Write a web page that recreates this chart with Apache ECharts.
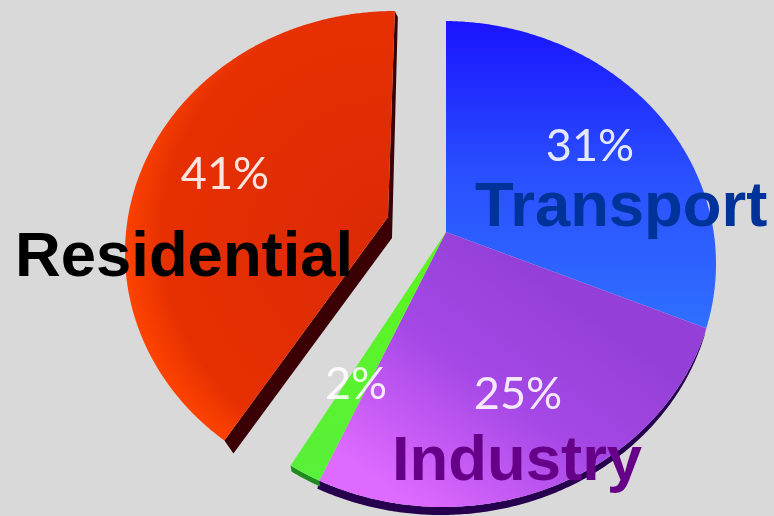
<!DOCTYPE html>
<html>
<head>
<meta charset="utf-8">
<title>Energy use by sector</title>
<script src="https://cdn.jsdelivr.net/npm/echarts@6/dist/echarts.min.js"></script>
<style>
  html, body { margin: 0; padding: 0; background: #d9d9d9; }
  #chart { width: 774px; height: 516px; }
</style>
</head>
<body>
<div id="chart"></div>
<script>
// clockwise from the top, residential is pulled out of the pie
var categories = ['Transport', 'Industry', 'Other', 'Residential'];
var shares = [31, 25, 2, 41];
var shareLabels = ['31%', '25%', '2%', '41%'];
var names = ['Transport', 'Industry', 'Residential'];
var nameColors = ['#003399', '#660088', '#000000'];

var DEG_PER_POINT = 3.6;

// the pie is seen at an angle: the apex is not the middle of the ellipse
var mainPie = {apex: [446, 232], center: [443, 264], rx: 273, ry: 243};
var redPie = {apex: [388, 217], center: [395, 253], rx: 270, ry: 242};

var percentPos = [[590, 146], [518, 394], [356, 384], [225, 174]];
var namePos = [[475, 209], [392, 463], [15, 259]];

function rayToEllipse(pie, dx, dy) {
  var px = pie.apex[0] - pie.center[0];
  var py = pie.apex[1] - pie.center[1];
  var a = dx * dx / (pie.rx * pie.rx) + dy * dy / (pie.ry * pie.ry);
  var b = 2 * (px * dx / (pie.rx * pie.rx) + py * dy / (pie.ry * pie.ry));
  var c = px * px / (pie.rx * pie.rx) + py * py / (pie.ry * pie.ry) - 1;
  var t = (-b + Math.sqrt(b * b - 4 * a * c)) / (2 * a);
  return [pie.apex[0] + t * dx, pie.apex[1] + t * dy];
}

// perspective lean of the lower half of the main pie
function mainPoint(deg) {
  var r = deg * Math.PI / 180;
  var dx = Math.sin(r);
  var dy = -Math.cos(r);
  if (dy > 0) {
    dx -= 0.09 * dy * dy * dy;
    dy *= 0.93;
  }
  return rayToEllipse(mainPie, dx, dy);
}

function redPoint(deg) {
  var r = deg * Math.PI / 180;
  var dx = Math.sin(r);
  var dy = -Math.cos(r);
  if (dy > 0) {
    dx -= 0.06 * dy * dy;
  }
  return rayToEllipse(redPie, dx, dy);
}

function arc(pointFn, from, to) {
  var pts = [];
  var n = Math.ceil(Math.abs(to - from) * 2);
  for (var i = 0; i <= n; i++) {
    pts.push(pointFn(from + (to - from) * i / n));
  }
  return pts;
}

function shifted(pts, ox, oy) {
  return pts.map(function (p) { return [p[0] + ox, p[1] + oy]; });
}

function poly(points, fill) {
  return {type: 'polygon', shape: {points: points}, style: {fill: fill}};
}

var blueFill = new echarts.graphic.LinearGradient(0, 22, 0, 330, [
  {offset: 0, color: '#1a14ff'},
  {offset: 0.5, color: '#2a50ff'},
  {offset: 1, color: '#3070ff'}
], true);
var purpleFill = new echarts.graphic.LinearGradient(570, 300, 420, 510, [
  {offset: 0, color: '#9440d8'},
  {offset: 0.45, color: '#a548e6'},
  {offset: 1, color: '#de6aff'}
], true);
var greenFill = new echarts.graphic.LinearGradient(0, 240, 0, 480, [
  {offset: 0, color: '#5cf51e'},
  {offset: 1, color: '#58f03a'}
], true);
var redFill = new echarts.graphic.RadialGradient(385, 235, 265, [
  {offset: 0, color: '#dc2a06'},
  {offset: 0.84, color: '#e63002'},
  {offset: 1, color: '#ff4400'}
], true);

function renderSlice(params, api) {
  var i = params.dataIndex;
  var start = 0;
  for (var k = 0; k < i; k++) {
    start += shares[k];
  }
  var from = start * DEG_PER_POINT;
  var to = (start + api.value(0)) * DEG_PER_POINT;
  var children = [];

  if (i === 3) {
    // residential has its own apex, turned a little against the rest
    from += 5.5;
    to += 5.5;
    var rim = arc(redPoint, from, to);
    var tip = rim[0];
    var corner = rim[rim.length - 1];
    var a = redPie.apex;
    children.push(poly([corner, [corner[0] + 3, corner[1] + 6], [a[0] + 4, a[1] + 21], [tip[0] + 9, tip[1] + 13], tip, a], '#3a0004'));
    children.push(poly([a].concat(rim), redFill));
  } else {
    var edge = arc(mainPoint, from, to);
    if (i === 1) {
      children.push(poly(edge.concat(shifted(edge, -2, 8).reverse()), '#26004e'));
    }
    if (i === 2) {
      children.push(poly(edge.concat(shifted(edge, 1, 6).reverse()), '#1f8a20'));
    }
    children.push(poly([mainPie.apex].concat(edge), [blueFill, purpleFill, greenFill][i]));
  }

  children.push({
    type: 'text',
    z2: 5,
    style: {
      text: shareLabels[i],
      x: percentPos[i][0],
      y: percentPos[i][1],
      fill: 'rgba(255,255,255,0.88)',
      font: '400 45px Lato',
      align: 'center',
      verticalAlign: 'middle'
    }
  });
  return {type: 'group', children: children};
}

function renderName(params) {
  var i = params.dataIndex;
  return {
    type: 'text',
    style: {
      text: names[i],
      x: namePos[i][0],
      y: namePos[i][1],
      fill: nameColors[i],
      font: 'bold 63.4px "Liberation Sans"',
      align: 'left',
      verticalAlign: 'middle'
    }
  };
}

var chart = echarts.init(document.getElementById('chart'), null, {renderer: 'canvas'});
chart.setOption({
  animation: false,
  backgroundColor: '#d9d9d9',
  series: [
    {
      type: 'custom',
      coordinateSystem: 'none',
      renderItem: renderSlice,
      data: categories.map(function (c, i) { return {name: c, value: [shares[i]]}; })
    },
    {
      type: 'custom',
      coordinateSystem: 'none',
      z: 5,
      renderItem: renderName,
      data: names.map(function (n) { return {name: n, value: [1]}; })
    }
  ]
});
</script>
</body>
</html>
